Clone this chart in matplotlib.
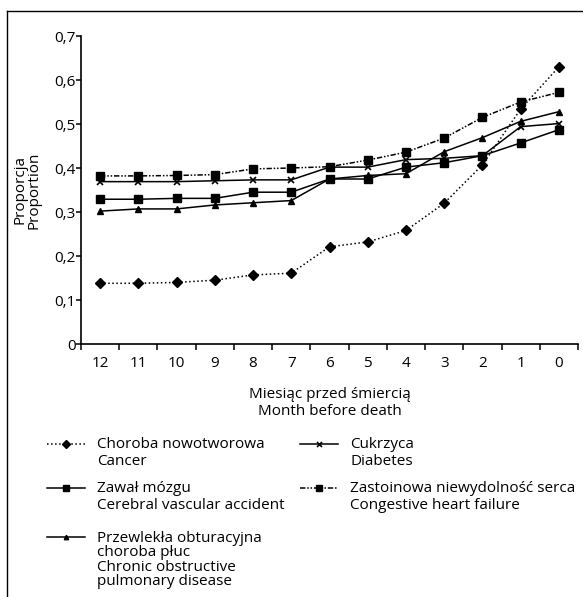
import matplotlib
matplotlib.use("Agg")
import matplotlib.pyplot as plt
from matplotlib.lines import Line2D

plt.rcParams['font.family'] = ['Open Sans', 'DejaVu Sans']

months = ["12", "11", "10", "9", "8", "7", "6", "5", "4", "3", "2", "1", "0"]
y_ticks = [0, 0.1, 0.2, 0.3, 0.4, 0.5, 0.6, 0.7]
y_tick_labels = ["0", "0,1", "0,2", "0,3", "0,4", "0,5", "0,6", "0,7"]

cancer = [0.138, 0.138, 0.140, 0.145, 0.157, 0.161, 0.221, 0.232, 0.258, 0.320, 0.407, 0.534, 0.630]
diabetes = [0.369, 0.369, 0.369, 0.371, 0.373, 0.373, 0.402, 0.402, 0.419, 0.422, 0.428, 0.494, 0.501]
cva = [0.329, 0.329, 0.331, 0.331, 0.345, 0.345, 0.375, 0.375, 0.402, 0.412, 0.428, 0.457, 0.487]
chf = [0.382, 0.382, 0.383, 0.385, 0.398, 0.400, 0.403, 0.418, 0.436, 0.468, 0.515, 0.550, 0.572]
copd = [0.302, 0.307, 0.307, 0.316, 0.321, 0.326, 0.375, 0.383, 0.387, 0.437, 0.469, 0.506, 0.528]

W, H = 583, 597
FS = 11

fig = plt.figure(figsize=(W / 100, H / 100), dpi=100)
ax = fig.add_axes([81 / W, 1 - 344 / H, (578 - 81) / W, (344 - 36) / H])

x = list(range(len(months)))
lw = 1.1
chf_dash = (0, (3.5, 1.2, 1, 1.2, 1, 1.2))
styles = [
    (cancer, ':', 'D', 5.5, 1.0, "Choroba nowotworowa\nCancer"),
    (cva, '-', 's', 5.5, 1.0, "Zawał mózgu\nCerebral vascular accident"),
    (copd, '-', '^', 4, 1.0, "Przewlekła obturacyjna\nchoroba płuc\nChronic obstructive\npulmonary disease"),
    (diabetes, '-', 'x', 4.5, 1.2, "Cukrzyca\nDiabetes"),
    (chf, chf_dash, 's', 5.5, 1.0, "Zastoinowa niewydolność serca\nCongestive heart failure"),
]
for vals, ls, mk, ms, mew, lab in styles:
    ax.plot(x, vals, color='black', linestyle=ls, lw=lw, marker=mk, markersize=ms, mew=mew)

ax.set_xlim(-0.5, len(months) - 0.5)
ax.set_ylim(0, 0.7)
ax.set_xticks(x)
ax.set_xticklabels(months, fontsize=FS)
ax.set_xticks([i - 0.5 for i in range(len(months) + 1)], minor=True)
ax.tick_params(axis='x', which='major', length=0, pad=8.5)
ax.tick_params(axis='x', which='minor', length=4, width=1.1, direction='out')
ax.set_yticks(y_ticks)
ax.set_yticklabels(y_tick_labels, fontsize=FS)
ax.tick_params(axis='y', length=3.5, width=1.1, direction='out', pad=0.5)
for s in ['top', 'right']:
    ax.spines[s].set_visible(False)
for s in ['left', 'bottom']:
    ax.spines[s].set_linewidth(1.2)

fig.text(27 / W, 1 - 190 / H, "Proporcja\nProportion", rotation=90, ha='center', va='center',
         fontsize=FS, linespacing=0.95)
fig.text(330 / W, 1 - 403 / H, "Miesiąc przed śmiercią\nMonth before death", ha='center', va='center',
         fontsize=FS, linespacing=1.22)

# legend drawn by hand so the handles sit on the first line of each label
leg_pos = [(47, 444), (47, 488), (47, 537), (300, 444), (300, 488)]
for (vals, ls, mk, ms, mew, lab), (lx, ly) in zip(styles, leg_pos):
    yy = 1 - ly / H
    hx = [lx / W, (lx + 38) / W]
    fig.add_artist(Line2D(hx, [yy, yy], color='black', linestyle=ls, lw=lw, transform=fig.transFigure))
    fig.add_artist(Line2D([(lx + 19) / W], [yy], color='black', marker=mk, markersize=ms * 0.8, mew=mew,
                          linestyle='none', transform=fig.transFigure))
    n = lab.count("\n") + 1
    spacing = 18 if n == 2 else 15.3
    cy = ly + (n - 1) * spacing / 2
    fig.text((lx + 50) / W, 1 - cy / H, lab, ha='left', va='center', fontsize=FS,
             linespacing=spacing / 16)

# outer frame (left and top)
fig.add_artist(Line2D([7 / W, 7 / W], [0, 1 - 11 / H], color='black', lw=1, transform=fig.transFigure))
fig.add_artist(Line2D([7 / W, 1], [1 - 11 / H, 1 - 11 / H], color='black', lw=1, transform=fig.transFigure))

fig.savefig("out.png", dpi=100)
